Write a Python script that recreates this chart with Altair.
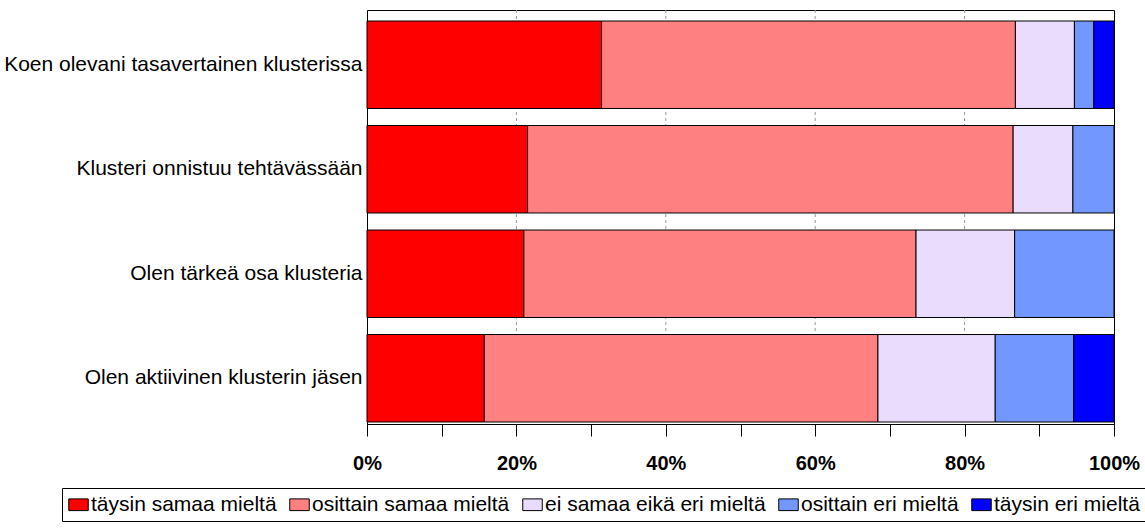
import altair as alt
import pandas as pd

categories = [
    "Koen olevani tasavertainen klusterissa",
    "Klusteri onnistuu tehtävässään",
    "Olen tärkeä osa klusteria",
    "Olen aktiivinen klusterin jäsen",
]
series = [
    "täysin samaa mieltä",
    "osittain samaa mieltä",
    "ei samaa eikä eri mieltä",
    "osittain eri mieltä",
    "täysin eri mieltä",
]
colors = ["#FF0000", "#FF8080", "#EADCFC", "#7298FF", "#0000FF"]

taysin_samaa = [31.4, 21.5, 21.0, 15.7]
osittain_samaa = [55.4, 65.0, 52.5, 52.7]
ei_samaa_eika_eri = [7.9, 8.0, 13.2, 15.7]
osittain_eri = [2.6, 5.5, 13.3, 10.5]
taysin_eri = [2.7, 0.0, 0.0, 5.4]

grid_values = [20, 40, 60, 80]
tick_values = [0, 10, 20, 30, 40, 50, 60, 70, 80, 90, 100]

all_series = [taysin_samaa, osittain_samaa, ei_samaa_eika_eri, osittain_eri, taysin_eri]
rows = []
for si, (name, vals) in enumerate(zip(series, all_series)):
    for ci, cat in enumerate(categories):
        if vals[ci] > 0:
            rows.append({"kategoria": cat, "sarja": name, "arvo": vals[ci], "jarj": si})
df = pd.DataFrame(rows)

FONT = "Liberation Sans"

x_scale = alt.Scale(domain=[0, 100], nice=False)
x_axis = alt.Axis(
    values=tick_values,
    labelExpr="datum.value % 20 == 0 ? datum.value + '%' : ''",
    title=None,
    grid=False,
    tickSize=12,
    tickColor="black",
    domainColor="black",
    labelFont=FONT,
    labelFontSize=20,
    labelFontWeight="bold",
    labelColor="black",
    labelPadding=17,
    labelFlush=False,
)

grid = alt.Chart(pd.DataFrame({"g": grid_values})).mark_rule(
    color="#999999", strokeDash=[3, 3], strokeWidth=1
).encode(x=alt.X("g:Q", scale=x_scale, axis=x_axis))

bars = alt.Chart(df).mark_bar(stroke="black", strokeWidth=1).encode(
    x=alt.X("arvo:Q", stack="zero", scale=x_scale, axis=x_axis),
    y=alt.Y(
        "kategoria:N",
        sort=categories,
        scale=alt.Scale(range=[11, 412], paddingInner=0.163, paddingOuter=0),
        axis=alt.Axis(
            title=None,
            ticks=False,
            domain=False,
            labelFont=FONT,
            labelFontSize=21,
            labelColor="black",
            labelPadding=5,
            labelLimit=400,
        ),
    ),
    color=alt.Color(
        "sarja:N",
        sort=series,
        scale=alt.Scale(domain=series, range=colors),
        legend=alt.Legend(
            title=None,
            orient="none",
            legendX=-305,
            legendY=478,
            direction="horizontal",
            columns=5,
            symbolType="M-1,-0.6H1V0.6H-1Z",
            symbolSize=380,
            symbolStrokeColor="black",
            symbolStrokeWidth=1,
            symbolOpacity=1,
            labelFont=FONT,
            labelFontSize=21,
            labelColor="black",
            labelLimit=500,
            labelOffset=2,
            columnPadding=10,
            strokeColor="black",
            fillColor="white",
            padding=6,
            cornerRadius=0,
        ),
    ),
    order=alt.Order("jarj:Q"),
)

chart = (
    alt.layer(grid, bars)
    .properties(
        width=747,
        height=414,
        autosize=alt.AutoSizeParams(type="none"),
        padding={"left": 367, "top": 10, "right": 31, "bottom": 104},
        background="white",
    )
    .configure_view(stroke="black", strokeWidth=1)
)

chart.save("out.html", embed_options={"renderer": "svg", "actions": False})
